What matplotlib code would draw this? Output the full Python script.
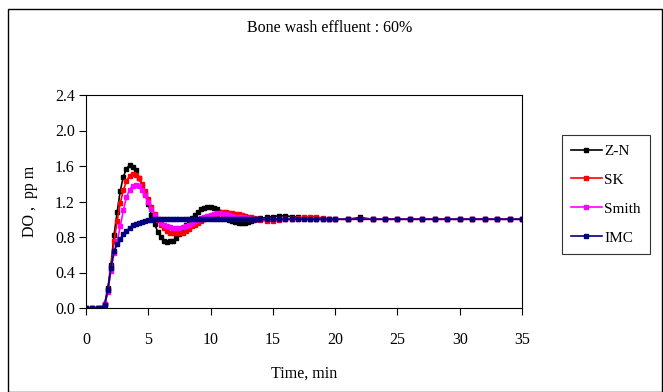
import numpy as np
import matplotlib
matplotlib.use("Agg")
import matplotlib.pyplot as plt
from matplotlib.patches import Rectangle

plt.rcParams['font.family'] = ['Liberation Serif', 'DejaVu Serif']

# time, min (finer steps through the transient)
time = [0, 0.5, 1.0,
        1.25, 1.5, 1.75, 2.0, 2.25, 2.5, 2.75, 3.0, 3.25, 3.5, 3.75, 4.0,
        4.25, 4.5, 4.75, 5.0, 5.25, 5.5, 5.75, 6.0, 6.25, 6.5, 6.75, 7.0,
        7.25, 7.5, 7.75, 8.0, 8.25, 8.5, 8.75, 9.0, 9.25, 9.5, 9.75, 10.0,
        10.25, 10.5, 10.75, 11.0, 11.25, 11.5, 11.75, 12.0, 12.25, 12.5, 12.75,
        13.0, 13.25, 13.5, 13.75, 14.0,
        14.5, 15.0, 15.5, 16.0, 16.5, 17.0, 17.5, 18.0, 18.5, 19.0, 19.5, 20.0,
        21, 22, 23, 24, 25, 26, 27, 28, 29, 30, 31, 32, 33, 34, 35]

zn = [0, 0, 0,
      0, 0.05, 0.22, 0.48, 0.82, 1.08, 1.32, 1.48, 1.57, 1.61, 1.59, 1.55,
      1.47, 1.38, 1.28, 1.17, 1.05, 0.95, 0.86, 0.80, 0.76, 0.74, 0.75, 0.76,
      0.79, 0.83, 0.88, 0.93, 0.97, 1.01, 1.05, 1.08, 1.11, 1.13, 1.14, 1.14,
      1.13, 1.11, 1.08, 1.05, 1.02, 0.99, 0.98, 0.97, 0.96, 0.96, 0.96,
      0.97, 0.98, 0.99, 1.00, 1.01,
      1.02, 1.03, 1.04, 1.04, 1.03, 1.02, 1.01, 1.00, 1.00, 1.00, 1.00, 1.00,
      1.00, 1.02, 1.00, 1.00, 1.00, 1.00, 1.00, 1.00, 1.00, 1.00, 1.00, 1.00,
      1.00, 1.00, 1.00]

sk = [0, 0, 0,
      0, 0.04, 0.20, 0.45, 0.75, 0.98, 1.18, 1.33, 1.43, 1.49, 1.51, 1.50,
      1.46, 1.40, 1.32, 1.23, 1.14, 1.06, 0.99, 0.94, 0.90, 0.87, 0.85, 0.84,
      0.84, 0.84, 0.85, 0.87, 0.89, 0.92, 0.94, 0.96, 0.98, 1.00, 1.02, 1.04,
      1.05, 1.06, 1.07, 1.08, 1.08, 1.07, 1.07, 1.06, 1.06, 1.05, 1.04,
      1.03, 1.02, 1.01, 1.00, 0.99,
      0.98, 0.98, 0.99, 1.00, 1.00, 1.01, 1.02, 1.03, 1.03, 1.01, 1.00, 1.00,
      1.00, 1.00, 1.00, 1.00, 1.00, 1.00, 1.00, 1.00, 1.00, 1.00, 1.00, 1.00,
      1.00, 1.00, 1.00]

smith = [0, 0, 0,
         0, 0.04, 0.18, 0.42, 0.62, 0.75, 0.92, 1.10, 1.25, 1.33, 1.38, 1.39,
         1.37, 1.33, 1.27, 1.20, 1.12, 1.05, 1.00, 0.96, 0.94, 0.92, 0.91, 0.90,
         0.90, 0.90, 0.91, 0.92, 0.94, 0.96, 0.98, 0.99, 1.01, 1.03, 1.04, 1.05,
         1.06, 1.07, 1.07, 1.06, 1.06, 1.05, 1.04, 1.03, 1.03, 1.02, 1.01,
         1.01, 1.00, 1.00, 1.00, 1.00,
         1.00, 1.00, 1.00, 1.00, 1.00, 1.00, 1.00, 1.00, 1.00, 1.00, 1.00, 1.00,
         1.00, 1.00, 1.00, 1.00, 1.00, 1.00, 1.00, 1.00, 1.00, 1.00, 1.00, 1.00,
         1.00, 1.00, 1.00]

imc = [0, 0, 0,
       0, 0.03, 0.20, 0.45, 0.64, 0.72, 0.78, 0.83, 0.87, 0.90, 0.93, 0.95,
       0.96, 0.97, 0.98, 0.99, 0.99, 1.00, 1.00, 1.00, 1.00, 1.00, 1.00, 1.00,
       1.00, 1.00, 1.00, 1.00, 1.00, 1.00, 1.00, 1.00, 1.00, 1.00, 1.00, 1.00,
       1.00, 1.00, 1.00, 1.00, 1.00, 1.00, 1.00, 1.00, 1.00, 1.00, 1.00,
       1.00, 1.00, 1.00, 1.00, 1.00,
       1.00, 1.00, 1.00, 1.00, 1.00, 1.00, 1.00, 1.00, 1.00, 1.00, 1.00, 1.00,
       1.00, 1.00, 1.00, 1.00, 1.00, 1.00, 1.00, 1.00, 1.00, 1.00, 1.00, 1.00,
       1.00, 1.00, 1.00]

series = [('Z-N', zn, 'black'), ('SK', sk, '#ff0000'),
          ('Smith', smith, '#ff00ff'), ('IMC', imc, '#000080')]

fig = plt.figure(figsize=(6.63, 3.92), dpi=100)
fig.patches.append(Rectangle((8/663, 0), 654/663, 1 - 9/392, transform=fig.transFigure,
                             fill=False, edgecolor='black', linewidth=1.0))

ax = fig.add_axes([86/663, 1 - 308/392, 436/663, 213/392])
for name, vals, col in series:
    ax.plot(time, vals, color=col, lw=1.2, marker='s', markersize=2.2, label=name)

ax.set_xlim(0, 35)
ax.set_ylim(0, 2.4)
ax.set_xticks(np.arange(0, 36, 5))
ax.set_yticks(np.arange(0, 2.41, 0.4))
ax.set_yticklabels(['%.1f' % v for v in np.arange(0, 2.41, 0.4)])
ax.tick_params(direction='out', length=5, width=0.8, labelsize=11.5)
ax.tick_params(axis='x', pad=12)
ax.tick_params(axis='y', pad=3)
for s in ax.spines.values():
    s.set_linewidth(0.8)

ax.set_xlabel('Time, min', fontsize=11.5, labelpad=13)
ax.set_ylabel('DO ,  pp m', fontsize=11.5, labelpad=12)
fig.text(330/663, 1 - 28/392, 'Bone wash effluent : 60%', ha='center', va='center', fontsize=11.5)

leg = ax.legend(loc='upper left', bbox_to_anchor=(562/663, 1 - 135/392),
                bbox_transform=fig.transFigure, frameon=True, fancybox=False,
                edgecolor='black', fontsize=11, handlelength=2.0, borderpad=0.6,
                labelspacing=1.0, handletextpad=0.15, borderaxespad=0, markerscale=1.0)
leg.get_frame().set_linewidth(0.8)

fig.savefig('out.png', dpi=100)
